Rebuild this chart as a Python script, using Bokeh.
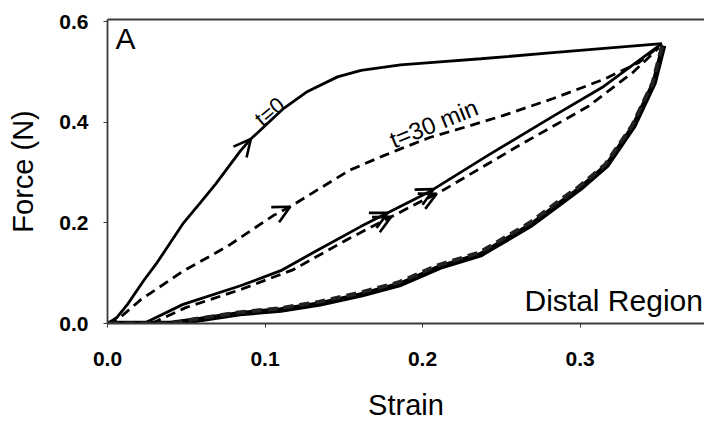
import numpy as np
from bokeh.plotting import figure
from bokeh.models import Range1d, LinearAxis, FixedTicker, Label, Arrow, OpenHead, ColumnDataSource
from bokeh.embed import file_html
from bokeh.resources import INLINE

# ---- data ----
x_ticks = [0.0, 0.1, 0.2, 0.3]
x_tick_labels = ["0.0", "0.1", "0.2", "0.3"]
y_ticks = [0.0, 0.2, 0.4, 0.6]
y_tick_labels = ["0.0", "0.2", "0.4", "0.6"]

# t=0 first loading (solid)
load0_x = [0.0, 0.006, 0.0127, 0.0229, 0.0317, 0.0483, 0.059, 0.0686, 0.0844, 0.0908,
           0.1117, 0.127, 0.146, 0.161, 0.186, 0.211, 0.237, 0.279, 0.321, 0.352]
load0_y = [0.0, 0.012, 0.038, 0.085, 0.122, 0.200, 0.240, 0.277, 0.343, 0.366,
           0.427, 0.461, 0.490, 0.503, 0.514, 0.520, 0.526, 0.537, 0.548, 0.556]

# t=30 min loading (dashed)
load30_x = [0.0, 0.008, 0.021, 0.048, 0.076, 0.105, 0.116, 0.133, 0.154, 0.175, 0.186,
            0.205, 0.230, 0.251, 0.283, 0.315, 0.337, 0.350]
load30_y = [0.0, 0.012, 0.047, 0.104, 0.153, 0.214, 0.232, 0.265, 0.305, 0.333, 0.347,
            0.370, 0.393, 0.413, 0.447, 0.485, 0.518, 0.550]

# second cycle loading, solid
reload0_x = [0.023, 0.048, 0.0844, 0.11, 0.133, 0.161, 0.205, 0.241, 0.283, 0.315, 0.345, 0.352]
reload0_y = [0.0, 0.038, 0.075, 0.105, 0.145, 0.193, 0.263, 0.333, 0.412, 0.471, 0.540, 0.556]

# second cycle loading, dashed
reload30_x = [0.028, 0.05, 0.085, 0.118, 0.154, 0.2006, 0.211, 0.262, 0.305, 0.334, 0.350]
reload30_y = [0.0, 0.032, 0.068, 0.107, 0.170, 0.245, 0.261, 0.355, 0.431, 0.500, 0.548]

# unloading curves (thick, overlapping)
unload0_x = [0.353, 0.347, 0.334, 0.317, 0.300, 0.290, 0.269, 0.248, 0.237, 0.211, 0.186,
             0.161, 0.135, 0.110, 0.084, 0.059, 0.040, 0.0]
unload0_y = [0.552, 0.478, 0.392, 0.314, 0.268, 0.245, 0.196, 0.157, 0.137, 0.112, 0.078,
             0.057, 0.039, 0.027, 0.0196, 0.008, 0.0, 0.0]
unload30_x = [0.352, 0.346, 0.333, 0.316, 0.299, 0.289, 0.268, 0.247, 0.236, 0.210, 0.185,
              0.160, 0.134, 0.109, 0.083, 0.058, 0.040, 0.0]
unload30_y = [0.550, 0.478, 0.393, 0.316, 0.271, 0.249, 0.200, 0.161, 0.141, 0.116, 0.082,
              0.061, 0.043, 0.030, 0.022, 0.010, 0.0, 0.0]

# arrow tip strains on each loading curve
arrows_load0 = [0.091]
arrows_load30 = [0.116]
arrows_reload0 = [0.178, 0.207]
arrows_reload30 = [0.180, 0.209]

FONT = "Liberation Sans"

p = figure(width=704, height=423, output_backend="svg", toolbar_location=None,
           x_range=Range1d(0, 0.379), y_range=Range1d(0, 0.604),
           min_border_left=107, min_border_right=0, min_border_top=19, min_border_bottom=96)
p.outline_line_color = None
p.xgrid.visible = False
p.ygrid.visible = False
p.background_fill_color = "white"
p.border_fill_color = "white"

AX = "#3a3a3a"
for ax, ticks, labs in ((p.xaxis[0], x_ticks, x_tick_labels), (p.yaxis[0], y_ticks, y_tick_labels)):
    ax.ticker = FixedTicker(ticks=ticks)
    ax.major_label_overrides = {t: l for t, l in zip(ticks, labs)}
    ax.major_tick_out = 4
    ax.major_tick_in = 0
    ax.minor_tick_out = 0
    ax.minor_tick_in = 0
    ax.axis_line_color = AX
    ax.axis_line_width = 1.8
    ax.major_tick_line_color = AX
    ax.major_label_text_font = FONT
    ax.major_label_text_font_size = "21px"
    ax.major_label_text_font_style = "bold"
    ax.major_label_text_color = "black"
    ax.axis_label_text_font = FONT
    ax.axis_label_text_font_size = "29px"
    ax.axis_label_text_font_style = "normal"
    ax.axis_label_text_color = "black"

p.xaxis.axis_label = "Strain"
p.yaxis.axis_label = "Force (N)"
p.xaxis.major_label_standoff = 24
p.yaxis.major_label_standoff = 15
p.xaxis.axis_label_standoff = 20
p.yaxis.axis_label_standoff = 17

top = LinearAxis(ticker=FixedTicker(ticks=[]), major_label_text_font_size="0px",
                 major_tick_out=0, major_tick_in=0, minor_tick_out=0, minor_tick_in=0,
                 major_label_standoff=0, axis_line_color=AX, axis_line_width=1.8)
p.add_layout(top, "above")

LW = 2.8
DASH = "10 6"
p.line(load0_x, load0_y, line_color="black", line_width=LW)
p.line(load30_x, load30_y, line_color="black", line_width=LW, line_dash=DASH)
p.line(reload0_x, reload0_y, line_color="black", line_width=LW)
p.line(reload30_x, reload30_y, line_color="black", line_width=LW, line_dash=DASH)
p.line(unload0_x, unload0_y, line_color="black", line_width=5.5)
p.line(unload30_x, unload30_y, line_color="#222222", line_width=4, line_dash=DASH)


def add_arrows(tips, cx, cy):
    order = np.argsort(cx)
    sx = np.asarray(cx)[order]
    sy = np.asarray(cy)[order]
    tips = np.asarray(tips)
    starts = tips - 0.01
    src = ColumnDataSource(dict(x0=starts, y0=np.interp(starts, sx, sy),
                                x1=tips, y1=np.interp(tips, sx, sy)))
    p.add_layout(Arrow(end=OpenHead(size=17, line_width=2.6, line_color="black"),
                       x_start="x0", y_start="y0", x_end="x1", y_end="y1",
                       line_alpha=0, source=src))


add_arrows(arrows_load0, load0_x, load0_y)
add_arrows(arrows_load30, load30_x, load30_y)
add_arrows(arrows_reload0, reload0_x, reload0_y)
add_arrows(arrows_reload30, reload30_x, reload30_y)

p.add_layout(Label(x=0.005, y=0.533, text="A", text_font=FONT, text_font_size="30px",
                   text_color="black"))
p.add_layout(Label(x=0.378, y=0.013, text="Distal Region", text_font=FONT,
                   text_font_size="30px", text_align="right", text_color="black"))
p.add_layout(Label(x=0.1005, y=0.382, text="t=0", text_font=FONT, text_font_size="22px",
                   angle=np.deg2rad(40), text_color="black"))
p.add_layout(Label(x=0.183, y=0.338, text="t=30 min", text_font=FONT, text_font_size="24px",
                   angle=np.deg2rad(22), text_color="black"))

open("out.html", "w").write(file_html(p, INLINE))
